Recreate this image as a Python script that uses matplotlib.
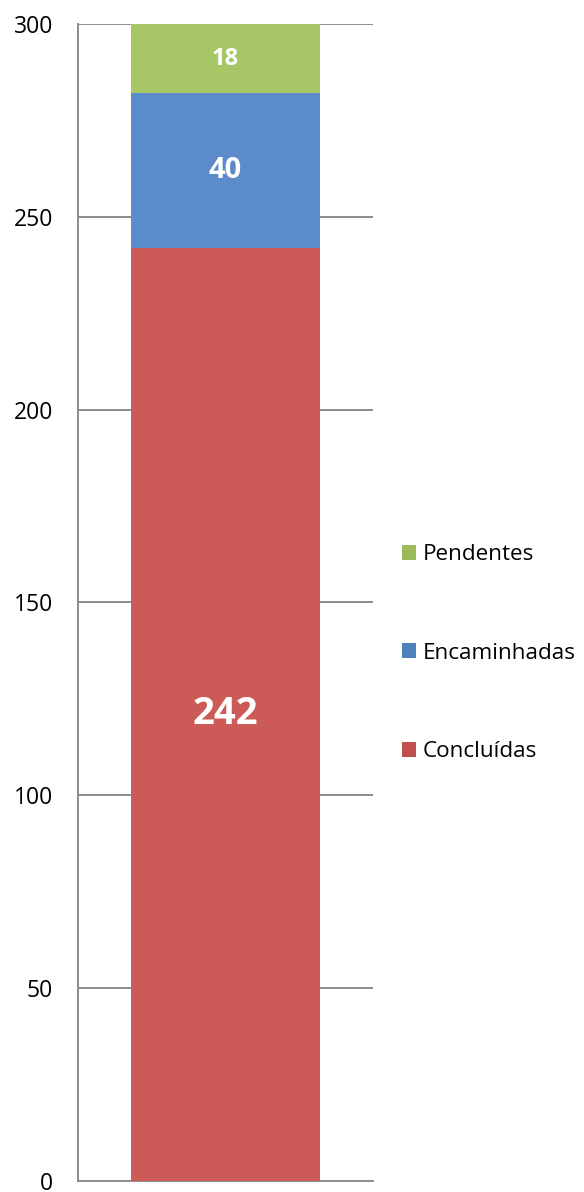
import matplotlib
matplotlib.use('Agg')
import matplotlib.pyplot as plt
from matplotlib.patches import Patch

plt.rcParams['font.family'] = ['Open Sans', 'DejaVu Sans']

# dados
series = ['Concluídas', 'Encaminhadas', 'Pendentes']
values = [242, 40, 18]
bar_colors = ['#CC5B58', '#5B8BC8', '#A7C766']
legend_colors = ['#C0504D', '#4F81BD', '#9BBB59']
label_sizes = [27.5, 21, 17]
yticks = [0, 50, 100, 150, 200, 250, 300]

fig = plt.figure(figsize=(5.84, 11.92), dpi=100)
ax = fig.add_axes([0.1336, 0.0092, 0.5051, 0.9707])

bottom = 0
for name, v, c, fs in zip(series, values, bar_colors, label_sizes):
    ax.bar(0, v, width=0.644, bottom=bottom, color=c, zorder=3)
    ax.text(0, bottom + v / 2, str(v), ha='center', va='center',
            color='white', fontsize=fs, fontweight='bold', zorder=4)
    bottom += v

ax.set_xlim(-0.5, 0.5)
ax.set_ylim(0, 300)
ax.set_yticks(yticks)
ax.set_xticks([])
ax.tick_params(axis='y', length=0, pad=18, labelsize=16.5)
ax.yaxis.grid(True, color='#8C8C8C', linewidth=1.4, zorder=0)
for s in ['top', 'right']:
    ax.spines[s].set_visible(False)
for s in ['left', 'bottom']:
    ax.spines[s].set_color('#8C8C8C')
    ax.spines[s].set_linewidth(1.4)

handles = [Patch(facecolor=c, edgecolor='none') for c in legend_colors]
fig.legend(handles[::-1], series[::-1], loc='center left',
           bbox_to_anchor=(0.6725, 0.452), frameon=False, fontsize=16.2,
           handlelength=0.65, handleheight=0.65, handletextpad=0.3,
           labelspacing=3.45, borderaxespad=0)

fig.savefig('out.png', dpi=100)
